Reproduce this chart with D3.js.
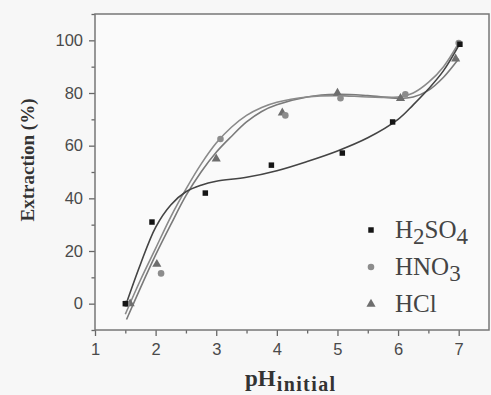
<!DOCTYPE html>
<html>
<head>
<meta charset="utf-8">
<script src="https://cdn.jsdelivr.net/npm/d3@7"></script>
<style>
  body { margin: 0; background: #f7f7f7; }
  svg { display: block; }
</style>
</head>
<body>
<svg id="chart" width="491" height="395"></svg>
<script>
// measured points
const h2so4 = [[1.5, 0], [1.94, 31], [2.82, 42], [3.91, 52.6], [5.08, 57.2], [5.91, 69], [7.02, 98.5]];
const hno3 = [[1.52, 0], [2.09, 11.5], [3.07, 62.5], [4.14, 71.5], [5.05, 78], [6.12, 79.5], [7.0, 99]];
const hcl = [[1.58, 0], [2.02, 15], [3.0, 55], [4.09, 72.5], [5.0, 80], [6.04, 78], [6.95, 93]];

// fitted curves
const h2so4Fit = [[1.5, -1], [1.75, 15], [2, 29], [2.25, 37.5], [2.5, 42.5], [2.75, 45], [3, 46.5], [3.5, 48],
  [4, 50.5], [4.5, 54], [5, 58], [5.5, 63], [6, 70], [6.25, 75.5], [6.5, 81.5], [6.75, 88.5], [7, 98]];
const hno3Fit = [[1.5, -4], [1.75, 9], [2, 21], [2.25, 33], [2.5, 43.5], [2.75, 53], [3, 61], [3.25, 67],
  [3.5, 71.5], [3.75, 74.5], [4, 76.5], [4.5, 78.5], [5, 79], [5.5, 78.5], [6, 78.5], [6.25, 80], [6.5, 84],
  [6.75, 90], [7, 99]];
const hclFit = [[1.52, -6], [1.75, 6], [2, 18.5], [2.25, 30], [2.5, 41], [2.75, 50], [3, 57.5], [3.25, 63.5],
  [3.5, 69], [3.75, 73], [4, 75.5], [4.5, 78.5], [5, 79.5], [5.5, 79], [6, 78], [6.25, 78.5], [6.5, 81],
  [6.75, 86], [7, 93]];

const xTicks = [1, 2, 3, 4, 5, 6, 7];
const xMinor = [1.5, 2.5, 3.5, 4.5, 5.5, 6.5];
const yTicks = [0, 20, 40, 60, 80, 100];
const yMinor = [-10, 10, 30, 50, 70, 90, 110];

const margin = { top: 14, right: 2, bottom: 65, left: 95 };
const width = 491 - margin.left - margin.right;
const height = 395 - margin.top - margin.bottom;

const svg = d3.select("#chart");
const g = svg.append("g").attr("transform", "translate(" + margin.left + "," + margin.top + ")");

const x = d3.scaleLinear().domain([1, 7.5]).range([0, width]);
const y = d3.scaleLinear().domain([-10, 110]).range([height, 0]);

g.append("rect").attr("width", width).attr("height", height).attr("fill", "#fafafa");

// axes
function styleAxis(sel) {
  sel.select(".domain").remove();
  sel.selectAll("line").attr("stroke", "#666").attr("stroke-width", 1.3);
  sel.selectAll("text").attr("fill", "#4a4a4a").style("font-family", "'Liberation Sans', Arial, sans-serif")
    .style("font-size", "16.5px");
}

g.append("g").attr("transform", "translate(0," + height + ")")
  .call(d3.axisBottom(x).tickValues(xTicks).tickSize(6).tickPadding(7).tickFormat(d3.format("d")))
  .call(styleAxis);
g.append("g").attr("transform", "translate(0," + height + ")")
  .call(d3.axisBottom(x).tickValues(xMinor).tickSize(3.5).tickFormat(""))
  .call(styleAxis);
g.append("g")
  .call(d3.axisLeft(y).tickValues(yTicks).tickSize(6).tickPadding(6).tickFormat(d3.format("d")))
  .call(styleAxis);
g.append("g")
  .call(d3.axisLeft(y).tickValues(yMinor).tickSize(3.5).tickFormat(""))
  .call(styleAxis);

g.append("rect").attr("width", width).attr("height", height)
  .attr("fill", "none").attr("stroke", "#777").attr("stroke-width", 1.5);

// fitted lines
const line = d3.line().x(d => x(d[0])).y(d => y(d[1])).curve(d3.curveCatmullRom);
const fits = [
  { data: hclFit, color: "#7a7a7a" },
  { data: hno3Fit, color: "#8a8a8a" },
  { data: h2so4Fit, color: "#444" }
];
fits.forEach(f => {
  g.append("path").datum(f.data).attr("d", line)
    .attr("fill", "none").attr("stroke", f.color).attr("stroke-width", 1.6);
});

// markers
const sym = {
  square: d3.symbol().type(d3.symbolSquare).size(30),
  circle: d3.symbol().type(d3.symbolCircle).size(34),
  triangle: d3.symbol().type(d3.symbolTriangle).size(36)
};
const series = [
  { name: "HCl", data: hcl, shape: "triangle", color: "#6e6e6e" },
  { name: "HNO3", data: hno3, shape: "circle", color: "#8c8c8c" },
  { name: "H2SO4", data: h2so4, shape: "square", color: "#151515" }
];
series.forEach(s => {
  g.selectAll(null).data(s.data).enter().append("path")
    .attr("d", sym[s.shape])
    .attr("transform", d => "translate(" + x(d[0]) + "," + y(d[1]) + ")")
    .attr("fill", s.color);
});

// legend
const legend = [
  { shape: "square", color: "#151515", parts: [["H", 0], ["2", 1], ["SO", 0], ["4", 1]] },
  { shape: "circle", color: "#8c8c8c", parts: [["HNO", 0], ["3", 1]] },
  { shape: "triangle", color: "#6e6e6e", parts: [["HCl", 0]] }
];
legend.forEach((l, i) => {
  const ly = 230 - margin.top + i * 37;
  const lg = g.append("g").attr("transform", "translate(" + (371 - margin.left) + "," + ly + ")");
  lg.append("path").attr("d", sym[l.shape]).attr("fill", l.color);
  const t = lg.append("text").attr("x", 24).attr("y", 8)
    .attr("fill", "#444").style("font-family", "'Liberation Serif', 'Times New Roman', serif")
    .style("font-size", "25px");
  let prev = 0;
  l.parts.forEach(p => {
    t.append("tspan").attr("dy", (p[1] - prev) * 6).style("font-size", p[1] ? "23px" : "25px").text(p[0]);
    prev = p[1];
  });
});

// axis titles
svg.append("text")
  .attr("transform", "translate(34,160) rotate(-90)")
  .attr("text-anchor", "middle")
  .attr("fill", "#333")
  .style("font-family", "'Liberation Serif', 'Times New Roman', serif")
  .style("font-weight", "bold").style("font-size", "19px")
  .text("Extraction (%)");

const xt = svg.append("text")
  .attr("x", 245).attr("y", 386)
  .attr("fill", "#333")
  .style("font-family", "'Liberation Serif', 'Times New Roman', serif")
  .style("font-weight", "bold").style("font-size", "23px");
xt.append("tspan").text("pH");
xt.append("tspan").attr("dy", 5).attr("dx", 1).style("font-size", "20px").style("letter-spacing", "1.4px").text("initial");
</script>
</body>
</html>
